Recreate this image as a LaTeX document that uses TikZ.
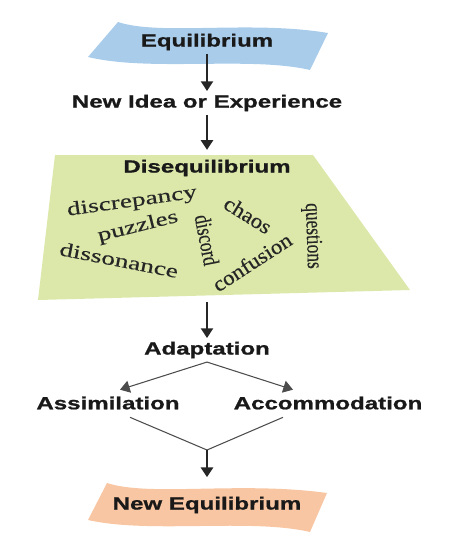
\documentclass[tikz,border=0pt]{standalone}
\usepackage{fontspec}
\usepackage{xcolor}
\usepackage{tikz}
\usetikzlibrary{arrows.meta,calc}
\newfontfamily\headfont{Liberation Sans}[FakeStretch=1.37, BoldFeatures={FakeBold=1}]
\newfontfamily\widefont{Liberation Serif}[FakeStretch=1.42, FakeBold=0.3]
\newfontfamily\midfont{Liberation Serif}[FakeStretch=1.08, FakeBold=0.3]
\newfontfamily\slimfont{Liberation Serif}[FakeStretch=0.76, FakeBold=0.3]
\definecolor{eqblue}{HTML}{A9CCEB}
\definecolor{diseqgreen}{HTML}{DBE8A9}
\definecolor{neweqorange}{HTML}{F8C6A2}

\begin{document}
\begin{tikzpicture}[x=0.02cm, y=-0.02cm, >={Triangle[width=7pt,length=5.5pt]},
  stage/.style={font={\headfont\bfseries}, text=black!90, inner sep=2pt},
  wordwide/.style={font={\widefont\fontsize{11}{13}\selectfont}, text=black!85, inner sep=0pt},
  wordmid/.style={font={\midfont\fontsize{12}{14}\selectfont}, text=black!85, inner sep=0pt},
  wordslim/.style={font={\slimfont\fontsize{13}{15}\selectfont}, text=black!85, inner sep=0pt},
  flow/.style={->, line width=0.9pt, black!85},
  branch/.style={line width=0.6pt, black!70}]
\useasboundingbox (0,0) rectangle (465,551);
% banners and the disequilibrium field
\fill[eqblue] (118,22) .. controls (160,36) and (250,20) .. (328,33) -- (310,70)
  .. controls (250,56) and (150,72) .. (88,57) -- cycle;
\fill[diseqgreen] (55,155) -- (313,155) -- (410,290) -- (38,300) -- cycle;
\fill[neweqorange] (107,483) .. controls (150,497) and (240,481) .. (327,493) -- (310,532)
  .. controls (250,518) and (150,534) .. (88,520) -- cycle;
\coordinate (diseqbot) at (207,302);
\coordinate (merge) at (207,450);
% main chain
\node[stage] (eq) at (207,42) {Equilibrium};
\node[stage] (idea) at (207,103) {New Idea or Experience};
\node[stage] (diseq) at (207,168) {Disequilibrium};
\node[stage] (adapt) at (207,350) {Adaptation};
\node[stage] (assim) at (108,403) {Assimilation};
\node[stage] (accom) at (328,403) {Accommodation};
\node[stage] (neweq) at (207,505) {New Equilibrium};
% words of disequilibrium
\node[wordwide, rotate=8] (discrep) at (132,202) {discrepancy};
\node[wordwide, rotate=14] (puzzles) at (138,227) {puzzles};
\node[wordwide, rotate=-11] (disson) at (119,260) {dissonance};
\node[wordslim, rotate=-79] (discord) at (207,240) {discord};
\node[wordmid, rotate=-32] (chaos) at (248,215) {chaos};
\node[wordmid, rotate=33] (confus) at (252,262) {confusion};
\node[wordslim, rotate=-88] (quest) at (312,236) {questions};
% connectors
\draw[flow] (eq) -- (idea);
\draw[flow, shorten >=3.5pt] (idea) -- (diseq);
\draw[flow] (diseqbot) -- (adapt);
\draw[branch, ->] (adapt.south) -- ($(assim.north)+(12,-3)$);
\draw[branch, ->] (adapt.south) -- ($(accom.north)+(-35,-3)$);
\draw[branch] ($(assim.south)+(22,4)$) -- (merge) -- ($(accom.south)+(-45,4)$);
\draw[flow, shorten >=9pt] (merge) -- (neweq);
\end{tikzpicture}
\end{document}
